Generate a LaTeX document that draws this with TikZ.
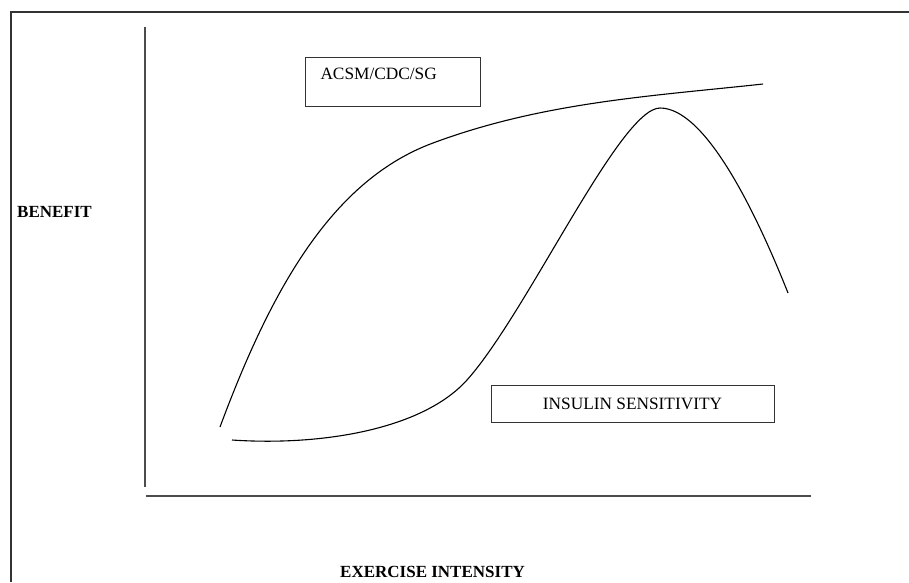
\documentclass[tikz,border=0pt]{standalone}
\usepackage{fontspec}
\setmainfont{Liberation Serif}
\def\dcurve{\draw[line width=1.1pt]}
\def\daxis{\draw[line width=1.6pt,black!70]}

\begin{document}
\begin{tikzpicture}[x=1pt,y=-1pt,
    labelbox/.style={draw,line width=1pt,black!80,text=black,font=\fontsize{17.3}{19}\selectfont},
    axislabel/.style={inner sep=0pt,font=\bfseries\fontsize{17}{19}\selectfont}]
  \useasboundingbox (0,0) rectangle (909,582);
  % frame
  \draw[line width=1.4pt,black!80] (909,12) -- (11,12) -- (11,582);
  % axes
  \coordinate (ytop) at (145,27);
  \coordinate (orig) at (145,487);
  \coordinate (xleft) at (146,496);
  \coordinate (xright) at (811,496);
  \daxis (ytop) -- (orig);
  \daxis (xleft) -- (xright);
  \node[axislabel,anchor=base west] (benefit) at (17,217) {BENEFIT};
  \node[axislabel,anchor=base west] (intensity) at (340,577) {EXERCISE INTENSITY};
  % curves
  \dcurve (220,427) .. controls (272,287) and (333,180) .. (433,143)
          .. controls (543,102) and (653,96) .. (763,84);
  \dcurve (232,440) .. controls (320,446) and (422,430) .. (467,380)
          .. controls (527,313) and (620,108) .. (660,108)
          .. controls (705,108) and (755,210) .. (788,293);
  % labels
  \node[labelbox,anchor=north west,inner xsep=15pt,inner ysep=10pt,
        text width=145pt,align=left,text height=12pt,text depth=17pt]
        (acsm) at (305,57) {ACSM/CDC/SG};
  \node[labelbox,minimum width=283pt,minimum height=37pt,inner sep=0pt]
        (insulin) at (632.5,403.5) {INSULIN SENSITIVITY};
\end{tikzpicture}
\end{document}
